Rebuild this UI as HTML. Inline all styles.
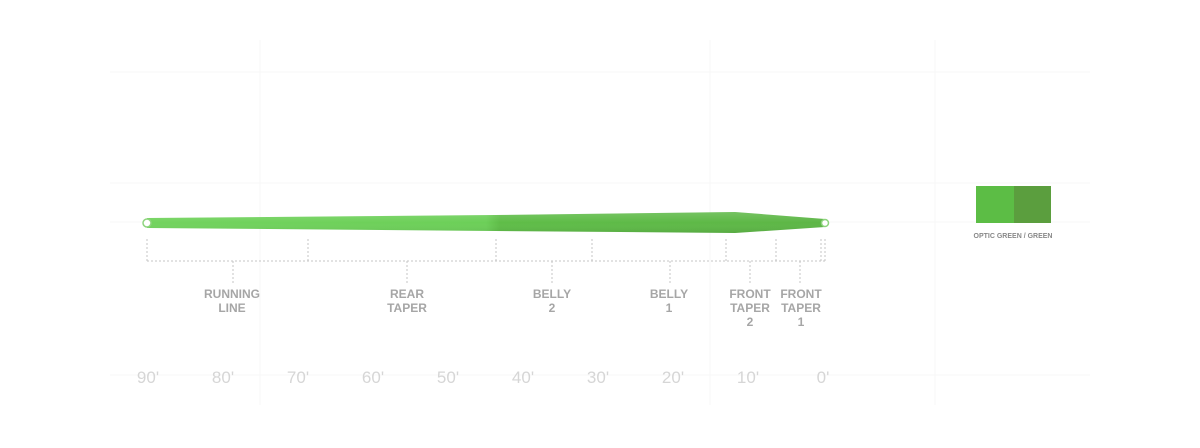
<!DOCTYPE html>
<html><head><style>
body{margin:0;background:#fff;}
svg{display:block;font-family:"Liberation Sans",sans-serif;}
</style></head><body>
<svg width="1200" height="448" viewBox="0 0 1200 448" xmlns="http://www.w3.org/2000/svg">
<defs>
<linearGradient id="g" x1="0" x2="1" y1="0" y2="0">
<stop offset="0" stop-color="#72d35e"/>
<stop offset="0.5" stop-color="#6ccf58"/>
<stop offset="0.52" stop-color="#5fbd48"/>
<stop offset="1" stop-color="#5db646"/>
</linearGradient>
<linearGradient id="v" x1="0" x2="0" y1="0" y2="1">
<stop offset="0" stop-color="#fff" stop-opacity="0.15"/>
<stop offset="0.5" stop-color="#fff" stop-opacity="0"/>
<stop offset="1" stop-color="#000" stop-opacity="0.08"/>
</linearGradient>
</defs>
<g stroke="#f7f7f7" stroke-width="1">
<line x1="110" y1="72" x2="1090" y2="72"/>
<line x1="110" y1="183" x2="1090" y2="183"/>
<line x1="110" y1="222" x2="1090" y2="222"/>
<line x1="110" y1="375" x2="1090" y2="375"/>
<line x1="260" y1="40" x2="260" y2="405"/>
<line x1="710" y1="40" x2="710" y2="405"/>
<line x1="935" y1="40" x2="935" y2="405"/>
</g>
<path d="M147,218 L495,215 L735,212 L825,219 L825,227 L735,233 L495,231 L147,228 Z" fill="url(#g)"/>
<path d="M147,218 L495,215 L735,212 L825,219 L825,227 L735,233 L495,231 L147,228 Z" fill="url(#v)"/>
<circle cx="147" cy="223" r="4" fill="#fff" stroke="#8ed47e" stroke-width="1.5"/>
<circle cx="825" cy="223" r="3.5" fill="#fff" stroke="#8ed47e" stroke-width="1.5"/>
<g stroke="#c4c4c4" stroke-width="1" stroke-dasharray="2,2" fill="none">
<line x1="147" y1="261" x2="825" y2="261"/>
<line x1="147" y1="239" x2="147" y2="261"/>
<line x1="308" y1="239" x2="308" y2="261"/>
<line x1="496" y1="239" x2="496" y2="261"/>
<line x1="592" y1="239" x2="592" y2="261"/>
<line x1="726" y1="239" x2="726" y2="261"/>
<line x1="776" y1="239" x2="776" y2="261"/>
<line x1="821" y1="239" x2="821" y2="261"/>
<line x1="825" y1="239" x2="825" y2="261"/>
<line x1="233" y1="261" x2="233" y2="284"/>
<line x1="407" y1="261" x2="407" y2="284"/>
<line x1="552" y1="261" x2="552" y2="284"/>
<line x1="670" y1="261" x2="670" y2="284"/>
<line x1="750" y1="261" x2="750" y2="284"/>
<line x1="800" y1="261" x2="800" y2="284"/>
</g>
<g fill="#a6a6a6" font-size="12" font-weight="bold" text-anchor="middle">
<text x="232" y="298">RUNNING</text><text x="232" y="312">LINE</text>
<text x="407" y="298">REAR</text><text x="407" y="312">TAPER</text>
<text x="552" y="298">BELLY</text><text x="552" y="312">2</text>
<text x="669" y="298">BELLY</text><text x="669" y="312">1</text>
<text x="750" y="298">FRONT</text><text x="750" y="312">TAPER</text><text x="750" y="326">2</text>
<text x="801" y="298">FRONT</text><text x="801" y="312">TAPER</text><text x="801" y="326">1</text>
</g>
<g fill="#d6d6d6" font-size="17" text-anchor="middle">
<text x="148" y="383">90'</text><text x="223" y="383">80'</text><text x="298" y="383">70'</text>
<text x="373" y="383">60'</text><text x="448" y="383">50'</text><text x="523" y="383">40'</text>
<text x="598" y="383">30'</text><text x="673" y="383">20'</text><text x="748" y="383">10'</text>
<text x="823" y="383">0'</text>
</g>
<rect x="976" y="186" width="38" height="37" fill="#5cbd45"/>
<rect x="1014" y="186" width="37" height="37" fill="#5b9e3e"/>
<text x="1013" y="238" fill="#888" font-size="7" font-weight="bold" text-anchor="middle">OPTIC GREEN / GREEN</text>
</svg>
</body></html>
